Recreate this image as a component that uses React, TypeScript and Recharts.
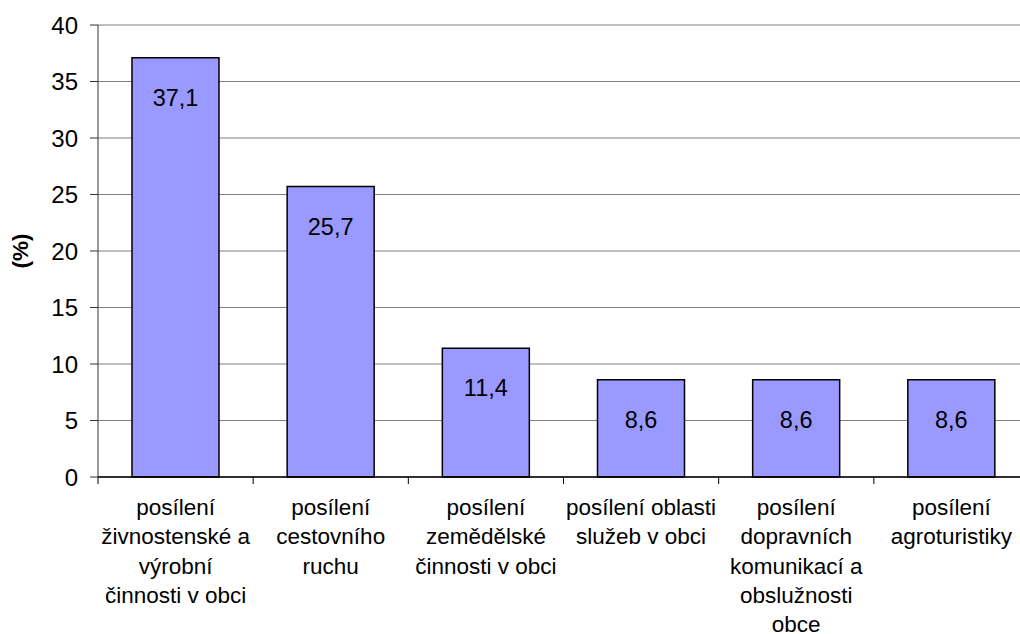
import React from 'react';
import { BarChart, Bar, XAxis, YAxis, CartesianGrid, LabelList, Label } from 'recharts';

const categories = [
  'posílení živnostenské a výrobní činnosti v obci',
  'posílení cestovního ruchu',
  'posílení zemědělské činnosti v obci',
  'posílení oblasti služeb v obci',
  'posílení dopravních komunikací a obslužnosti obce',
  'posílení agroturistiky',
];

const values = [37.1, 25.7, 11.4, 8.6, 8.6, 8.6];

// how the category labels wrap in the original
const tickLines = [
  ['posílení', 'živnostenské a', 'výrobní', 'činnosti v obci'],
  ['posílení', 'cestovního', 'ruchu'],
  ['posílení', 'zemědělské', 'činnosti v obci'],
  ['posílení oblasti', 'služeb v obci'],
  ['posílení', 'dopravních', 'komunikací a', 'obslužnosti', 'obce'],
  ['posílení', 'agroturistiky'],
];

const yTicks = [0, 5, 10, 15, 20, 25, 30, 35, 40];

const data = categories.map((name, i) => ({ name, value: values[i] }));

const FONT = '"Liberation Sans", Arial, sans-serif';

const CategoryTick = (props: any) => {
  const { x, y, payload } = props;
  const lines = tickLines[payload.index] || [String(payload.value)];
  const half = payload.offset || 77.6;
  return (
    <g>
      <line x1={x - half} y1={y} x2={x - half} y2={y + 7} stroke="#000" strokeWidth={1} />
      <text x={x} y={y + 38} textAnchor="middle" fontSize={22.5} fontFamily={FONT} fill="#000">
        {lines.map((l: string, i: number) => (
          <tspan key={i} x={x} dy={i === 0 ? 0 : 29.3}>
            {l}
          </tspan>
        ))}
      </text>
    </g>
  );
};

const ValueLabel = (props: any) => {
  const { x, y, width, value } = props;
  return (
    <text
      x={x + width / 2}
      y={y + 48}
      textAnchor="middle"
      fontSize={23.5}
      fontFamily={FONT}
      fill="#000"
    >
      {Number(value).toFixed(1).replace('.', ',')}
    </text>
  );
};

export default function App() {
  return (
    <div
      style={{
        position: 'absolute',
        left: 0,
        top: 0,
        width: 1020,
        height: 634,
        overflow: 'hidden',
        background: '#fff',
      }}
    >
      <BarChart
        width={1030}
        height={634}
        data={data}
        margin={{ top: 25, right: 1, bottom: 0, left: 0 }}
        barSize={87}
      >
        <CartesianGrid vertical={false} stroke="#808080" strokeWidth={1} />
        <XAxis
          dataKey="name"
          height={157}
          axisLine={{ stroke: '#000', strokeWidth: 1.5 }}
          tickLine={false}
          tickSize={0}
          tickMargin={0}
          interval={0}
          tick={<CategoryTick />}
        />
        <YAxis
          width={98}
          domain={[0, 40]}
          ticks={yTicks}
          interval={0}
          axisLine={{ stroke: '#333' }}
          tickLine={{ stroke: '#333' }}
          tickSize={8}
          tickMargin={12}
          tick={{ fontSize: 24, fontFamily: FONT, fill: '#000' }}
        >
          <Label
            value="(%)"
            angle={-90}
            position="insideLeft"
            offset={20}
            style={{ fontSize: 22.5, fontWeight: 'bold', fontFamily: FONT, fill: '#000', textAnchor: 'middle' }}
          />
        </YAxis>
        <Bar dataKey="value" fill="#9999FF" stroke="#000" strokeWidth={1.5} isAnimationActive={false}>
          <LabelList dataKey="value" content={<ValueLabel />} />
        </Bar>
      </BarChart>
    </div>
  );
}
